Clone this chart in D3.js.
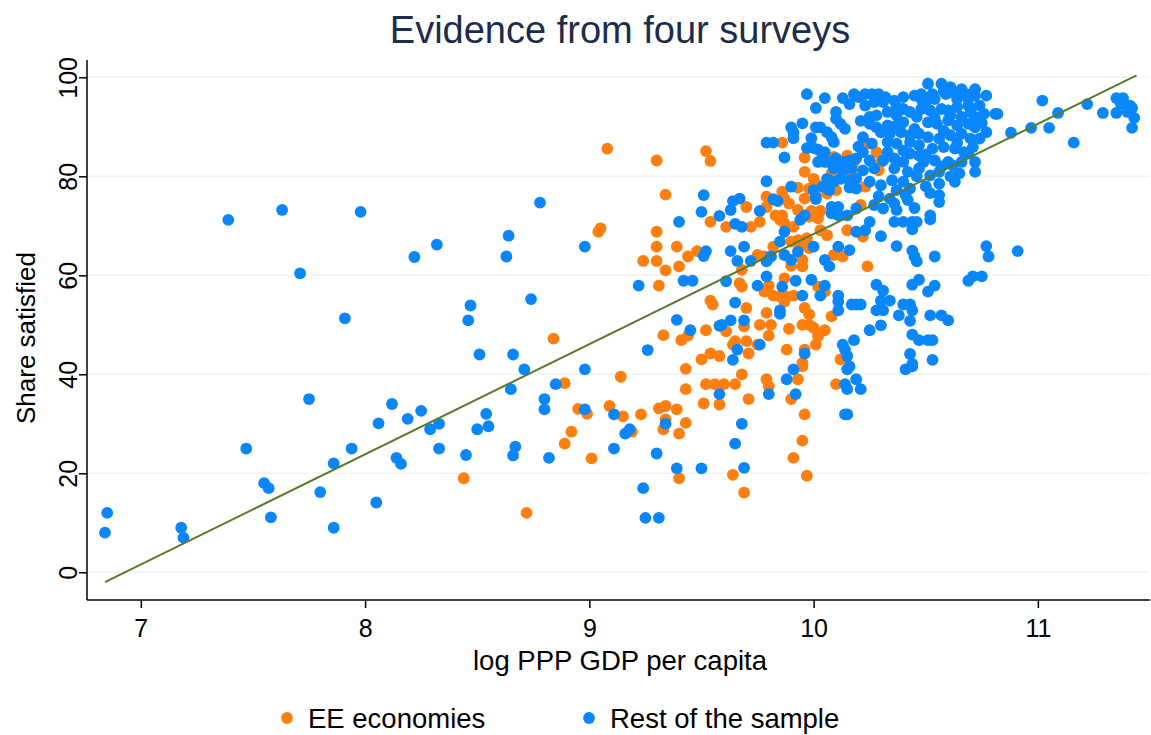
<!DOCTYPE html>
<html>
<head>
<meta charset="utf-8">
<script src="https://cdn.jsdelivr.net/npm/d3@7"></script>
<style>
  body { margin: 0; background: #fff; }
  text { font-family: "Liberation Sans", Arial, sans-serif; }
</style>
</head>
<body>
<svg width="1151" height="735"></svg>
<script>
var width = 1151, height = 735

// tick values
var xTicks = [7, 8, 9, 10, 11]
var yTicks = [0, 20, 40, 60, 80, 100]

// fitted line endpoints (log gdp, share)
var fitX = [6.84, 11.44]
var fitY = [-2.0, 100.4]

// EE economies [log gdp, share satisfied]
var ee = [
  [8.84,47.2],[8.89,38.2],[8.95,33.0],[8.92,28.4],[8.89,26.0],[8.44,19.0],[8.72,12.0],
  [9.08,85.6],[9.30,83.2],[9.52,85.1],[9.54,83.1],[9.34,76.3],
  [9.04,68.8],[9.05,69.5],[9.54,70.8],[9.30,68.8],[9.30,65.8],[9.39,65.8],[9.24,62.9],[9.30,62.9],
  [9.44,63.8],[9.48,64.9],[9.40,61.8],[9.34,61.0],[9.31,57.9],[9.54,54.9],[9.55,54.1],[9.33,47.9],
  [9.41,46.9],[9.44,47.8],[9.52,48.9],[9.50,43.0],[9.54,44.2],[9.58,43.7],[9.43,41.1],
  [9.14,39.5],[9.43,37.0],[9.52,38.0],[9.56,38.0],[9.51,34.1],[9.58,33.9],[9.09,33.6],[8.99,32.0],
  [9.15,31.5],[9.23,31.9],[9.31,33.1],[9.34,33.6],[9.39,32.9],[9.34,30.9],[9.33,28.9],[9.43,30.2],
  [9.40,28.0],[9.19,28.4],[9.01,23.0],[9.40,19.0],
  [9.68,40.0],[9.65,38.0],[9.60,38.0],[9.79,39.0],[9.80,37.6],[9.71,35.0],[9.93,39.0],[9.95,41.6],
  [9.90,35.0],[9.96,31.9],[9.95,26.6],[9.91,23.1],[9.97,19.5],[9.64,19.7],[9.69,16.1],[10.10,38.0],
  [9.61,69.8],[9.72,69.8],[9.76,70.8],[9.85,71.2],[9.87,70.5],[9.91,69.8],[9.98,71.8],[10.02,71.5],
  [10.03,69.1],[10.06,68.1],[10.15,69.1],[9.90,66.8],[9.93,67.1],[9.97,67.5],[9.82,65.8],[9.98,65.5],
  [9.94,66.1],[9.75,64.1],[9.78,63.8],[9.90,61.9],[9.95,63.1],[9.95,61.8],[9.68,61.1],[9.67,58.4],
  [9.68,57.7],[10.09,64.1],[10.13,63.8],[9.87,59.4],[9.80,57.9],[9.78,56.7],[9.82,55.9],[9.85,55.7],
  [9.88,55.7],[9.91,55.9],[9.87,54.7],[10.02,57.7],[10.05,56.7],[9.70,53.4],[9.79,52.4],[9.96,53.4],
  [9.98,52.1],[10.08,51.7],[9.69,49.7],[9.76,50.0],[9.81,50.0],[9.89,49.2],[9.95,50.0],[9.98,50.0],
  [10.00,49.4],[10.02,48.4],[10.05,48.9],[9.61,48.7],[9.65,46.7],[9.70,46.7],[9.80,47.8],[10.02,47.7],
  [10.01,46.0],[9.75,46.0],[9.64,46.0],[9.71,44.2],[9.88,45.0],[9.96,45.0],[9.95,42.3],[10.12,43.0],
  [10.22,67.8],[10.24,61.8],
  [9.86,86.8],[9.96,83.8],[10.09,83.9],[10.15,84.2],[10.18,82.9],[9.96,80.9],[10.00,79.5],[10.01,78.5],
  [10.08,80.6],[10.17,80.6],[9.93,77.7],[9.98,77.5],[10.06,76.5],[10.10,77.2],[9.86,76.9],[9.87,75.5],
  [9.79,75.9],[9.81,75.2],[9.89,74.5],[9.96,75.5],[9.93,73.2],[9.99,73.0],[10.03,73.0],[9.70,73.8],
  [9.86,72.1],[9.83,72.1],[9.79,73.8],
  [10.24,86.6],[10.28,84.9],[10.30,82.9],[10.29,81.2],[10.23,77.9],[10.21,74.2]
]

// rest of the sample
var rest = [
  [7.39,71.2],[7.63,73.2],[7.71,60.4],[7.75,35.0],[7.47,25.0],[7.55,18.0],[7.57,17.0],[7.58,11.1],
  [7.80,16.2],[7.86,22.0],[7.86,9.0],[6.85,12.0],[6.84,8.0],[7.18,9.0],[7.19,7.0],
  [7.98,72.8],[8.22,63.7],[8.32,66.2],[7.91,51.3],[8.78,74.7],[8.64,68.0],[8.63,63.8],[8.98,65.8],
  [8.47,53.9],[8.46,50.9],[8.74,55.2],[8.51,44.0],[8.66,44.0],[8.71,41.0],[8.98,41.0],[8.85,38.0],
  [8.65,37.0],[8.80,35.0],[8.80,32.9],[8.98,32.9],[8.82,23.1],[8.12,34.0],[8.06,30.1],[8.19,31.0],
  [8.25,32.6],[8.29,28.9],[8.33,30.0],[8.54,32.0],[8.50,28.9],[8.55,29.5],[8.33,25.0],[7.94,25.0],
  [8.14,23.1],[8.16,21.9],[8.45,23.7],[8.66,23.6],[8.67,25.4],[8.05,14.1],
  [9.51,76.2],[9.50,72.8],[9.58,72.0],
  [9.40,70.8],[9.51,63.9],[9.52,64.9],[9.22,57.9],[9.42,58.9],[9.46,58.9],[9.39,51.0],[9.45,48.9],
  [9.26,44.9],[9.58,49.8],
  [9.58,36.0],[9.11,31.9],[9.34,30.0],[9.18,28.9],[9.16,28.0],[9.11,25.0],[9.30,24.0],[9.39,21.0],
  [9.50,21.0],[9.24,17.0],[9.25,11.0],[9.31,11.0],
  [9.80,36.0],[9.88,39.0],[9.91,41.0],[9.92,36.0],[9.68,30.0],[9.65,26.0],[9.69,21.1],[10.14,38.0],
  [10.15,41.0],[10.15,37.0],[10.19,39.0],[10.14,31.9],[10.15,31.9],
  [10.41,41.0],[10.44,41.6],[10.21,37.0],
  [10.52,71.3],[10.36,70.8],[10.40,70.8],[10.44,70.8],[10.46,70.8],[10.44,69.3],[10.25,70.8],[10.23,69.1],
  [10.30,67.9],[10.37,65.9],[10.44,65.0],[10.45,63.8],[10.46,62.8],[10.54,63.8],[10.77,65.9],[10.78,63.8],
  [10.69,58.9],[10.71,59.8],[10.75,59.8],[10.44,58.1],[10.47,59.1],[10.28,58.1],[10.31,56.9],[10.51,56.7],
  [10.54,57.9],[10.30,54.9],[10.34,54.9],[10.40,54.1],[10.43,54.1],[10.28,52.9],[10.31,52.9],[10.44,52.9],
  [10.38,51.9],[10.21,54.1],[10.52,51.9],[10.57,51.9],[10.60,50.9],[10.43,50.8],[10.30,49.9],[10.25,48.9],
  [10.44,48.0],[10.47,46.9],[10.51,46.9],[10.53,46.9],[10.43,44.1],[10.44,42.1],[10.53,42.9],
  [9.65,70.4],[9.68,69.8],[9.87,68.8],[9.94,71.2],[10.19,68.8],[9.85,66.8],[10.00,65.8],[9.63,64.9],
  [9.69,65.8],[9.81,63.8],[9.79,62.8],[9.87,64.1],[9.90,63.1],[9.93,64.8],[9.66,62.9],[9.72,62.9],
  [9.61,58.8],[10.05,63.1],[10.07,61.8],[10.11,65.8],[10.16,65.1],[9.79,59.8],[9.92,58.9],[9.99,59.1],
  [9.75,57.9],[9.86,57.7],[9.95,55.9],[10.05,57.9],[10.03,55.9],[10.11,55.9],[10.11,54.7],[10.17,54.1],
  [10.19,54.1],[10.11,52.9],[9.65,54.5],[9.85,52.9],[9.85,52.2],[9.63,50.9],[9.69,50.9],[9.59,50.0],
  [10.18,46.9],[10.13,46.0],[10.14,45.0],[9.76,46.0],[9.66,45.0],[9.96,44.2],[9.64,42.9],[10.15,43.7],
  [10.16,41.6],
  [9.97,96.6],[10.05,95.8],[10.01,93.8],[10.13,95.8],[10.18,96.6],[10.16,94.6],[10.20,96.0],[10.10,93.0],
  [10.10,91.6],[10.12,90.6],[10.14,89.6],[9.95,90.7],[9.90,89.9],[9.91,88.9],[9.91,87.7],[10.01,89.9],
  [10.03,89.9],[10.06,88.9],[10.08,87.9],[10.09,86.9],[9.79,86.8],[9.82,86.8],[9.99,87.7],[9.97,85.7],
  [10.00,85.7],[9.87,83.8],[10.02,85.4],[10.05,84.9],[10.02,82.9],[10.05,82.9],[10.04,83.9],[10.07,82.9],
  [10.10,83.6],[10.13,82.9],[10.16,83.2],[10.19,83.6],[10.09,81.6],[10.13,81.2],[10.17,81.6],[10.06,79.5],
  [10.09,78.9],[10.12,79.5],[10.16,79.2],[10.19,79.5],[9.79,79.0],[9.90,77.9],[10.00,77.2],[10.01,75.9],
  [10.04,77.9],[10.07,77.2],[10.16,77.7],[10.19,77.5],[9.82,75.4],[9.84,75.0],[10.01,75.4],[10.08,73.8],
  [10.11,73.8],[9.64,75.0],[9.67,75.5],[9.63,73.2],[9.76,73.0],[9.96,72.1],[10.08,72.5],[10.11,72.1],
  [10.15,72.1],[10.19,73.5],
  [10.51,98.7],[10.57,98.7],[10.61,98.0],[10.66,97.6],[10.72,97.6],[10.77,96.3],[10.48,96.6],[10.53,96.6],
  [10.50,95.0],[10.54,95.6],[10.59,96.6],[10.23,96.6],[10.26,96.6],[10.29,96.6],[10.32,96.0],[10.40,96.0],
  [10.45,96.3],[10.48,95.6],[10.23,94.3],[10.27,95.0],[10.31,95.0],[10.36,95.3],[10.37,94.0],[10.40,93.6],
  [10.64,95.6],[10.69,95.6],[10.72,96.3],[10.74,94.3],[10.69,94.3],[10.64,94.0],[10.57,93.6],[10.60,93.3],
  [10.52,93.3],[10.48,93.6],[10.81,92.6],[10.76,92.6],[10.72,92.0],[10.66,92.0],[10.61,92.3],[10.43,93.0],
  [10.46,92.0],[10.37,92.3],[10.33,93.0],[10.28,92.3],[10.25,92.0],[10.25,90.6],[10.28,89.9],[10.33,90.3],
  [10.37,90.3],[10.40,90.9],[10.51,90.9],[10.55,90.6],[10.60,91.3],[10.64,90.3],[10.69,90.6],[10.72,89.9],
  [10.77,88.9],[10.74,87.6],[10.30,88.9],[10.34,88.6],[10.39,88.9],[10.43,88.3],[10.47,88.6],[10.51,87.9],
  [10.56,87.6],[10.61,88.3],[10.66,88.6],[10.70,87.6],[10.22,87.9],[10.26,86.6],[10.33,86.9],[10.37,86.6],
  [10.43,86.9],[10.47,86.3],[10.53,85.6],[10.58,85.9],[10.63,85.6],[10.67,84.9],[10.71,85.9],[10.22,84.9],
  [10.33,84.9],[10.40,85.2],[10.43,84.6],[10.47,84.2],[10.25,83.2],[10.31,83.2],[10.36,83.6],[10.40,82.9],
  [10.49,82.9],[10.54,83.2],[10.60,82.9],[10.66,82.9],[10.69,84.6],[10.72,82.9],[10.22,81.2],[10.27,81.6],
  [10.36,81.6],[10.42,80.9],[10.47,81.6],[10.52,80.2],[10.56,80.9],[10.62,82.2],[10.72,80.9],[10.63,78.9],
  [10.56,78.5],[10.25,78.9],[10.30,78.2],[10.35,79.2],[10.40,78.9],[10.43,77.5],[10.37,77.2],[10.41,76.2],
  [10.34,75.5],[10.36,74.5],[10.42,75.2],[10.27,74.2],[10.31,73.5],[10.37,73.2],[10.52,72.1],[10.56,76.2],
  [10.56,74.8],
  [10.82,92.6],[10.88,88.8],[10.97,89.8],[11.02,95.3],[11.05,89.8],[11.09,92.8],[11.16,86.8],[11.22,94.6],
  [11.29,92.8],[11.35,95.8],[11.38,95.8],[11.37,94.6],[11.41,94.3],[11.42,93.8],[11.35,92.8],[11.40,93.0],
  [11.43,91.8],[11.42,89.8],[10.91,64.9],
  [10.58,97.2],[10.63,96.8],[10.68,96.6],[10.70,93.0],[10.75,90.8],[10.64,86.8],[10.58,89.2],
  [10.54,91.8],[10.45,89.6],[10.50,84.4],[10.57,82.0],[10.65,80.6],[10.50,78.0],[10.61,80.0],
  [10.46,80.0],[10.52,76.6],[10.45,73.6],[10.29,76.0],[10.21,91.2],[10.20,86.0]
]

var orange = "#ff7f0e", blue = "#0a86fb", green = "#5b7a2b"

var plotLeft = 87, plotRight = 1150, plotTop = 60, plotBottom = 600

var x = d3.scaleLinear().domain([6.76, 11.5]).range([plotLeft, plotRight])
var y = d3.scaleLinear().domain([-5.6, 103.5]).range([plotBottom, plotTop])

var svg = d3.select("svg")

// gridlines
svg.append("g").selectAll("line")
  .data(yTicks)
  .enter().append("line")
  .attr("x1", plotLeft).attr("x2", plotRight)
  .attr("y1", function(d) { return y(d) })
  .attr("y2", function(d) { return y(d) })
  .attr("stroke", "#eef1f5")
  .attr("stroke-width", 1.6)

// y axis, labels turned like the original
var yAxis = svg.append("g")
  .attr("transform", "translate(" + plotLeft + ",0)")
  .call(d3.axisLeft(y).tickValues(yTicks).tickSize(8))
yAxis.select(".domain").attr("stroke", "#000").attr("stroke-width", 1.5)
  .attr("d", "M0," + plotTop + "V" + plotBottom)
yAxis.selectAll(".tick line").attr("stroke-width", 1.5)
yAxis.selectAll(".tick text")
  .attr("font-size", 25)
  .attr("fill", "#000")
  .attr("text-anchor", "middle")
  .attr("x", 0).attr("y", 0).attr("dy", 0)
  .attr("transform", "translate(-10,0) rotate(-90)")

// x axis
var xAxis = svg.append("g")
  .attr("transform", "translate(0," + plotBottom + ")")
  .call(d3.axisBottom(x).tickValues(xTicks).tickSize(8).tickPadding(11).tickFormat(d3.format("d")))
xAxis.select(".domain").attr("stroke", "#000").attr("stroke-width", 1.5)
  .attr("d", "M" + plotLeft + ",0H" + plotRight)
xAxis.selectAll(".tick line").attr("stroke-width", 1.5)
xAxis.selectAll(".tick text").attr("font-size", 25).attr("fill", "#000")

// points
function drawPoints(data, color) {
  svg.append("g").selectAll("circle")
    .data(data)
    .enter().append("circle")
    .attr("cx", function(d) { return x(d[0]) })
    .attr("cy", function(d) { return y(d[1]) })
    .attr("r", 5.9)
    .attr("fill", color)
}
drawPoints(ee, orange)
drawPoints(rest, blue)

// fitted line
svg.append("line")
  .attr("x1", x(fitX[0])).attr("y1", y(fitY[0]))
  .attr("x2", x(fitX[1])).attr("y2", y(fitY[1]))
  .attr("stroke", green)
  .attr("stroke-width", 2)

// title and labels
svg.append("text")
  .attr("x", 620).attr("y", 43)
  .attr("text-anchor", "middle")
  .attr("font-size", 38)
  .attr("fill", "#1c2c4c")
  .text("Evidence from four surveys")

svg.append("text")
  .attr("x", 620).attr("y", 670)
  .attr("text-anchor", "middle")
  .attr("font-size", 27.5)
  .text("log PPP GDP per capita")

svg.append("text")
  .attr("transform", "translate(35,338) rotate(-90)")
  .attr("text-anchor", "middle")
  .attr("font-size", 26)
  .text("Share satisfied")

// legend
var legend = [["EE economies", orange, 287], ["Rest of the sample", blue, 589]]
var lg = svg.append("g").selectAll("g")
  .data(legend)
  .enter().append("g")
  .attr("transform", function(d) { return "translate(" + d[2] + ",718)" })
lg.append("circle").attr("r", 5.9).attr("fill", function(d) { return d[1] })
lg.append("text")
  .attr("x", 21).attr("dy", "0.35em")
  .attr("font-size", 27.5)
  .text(function(d) { return d[0] })
</script>
</body>
</html>
